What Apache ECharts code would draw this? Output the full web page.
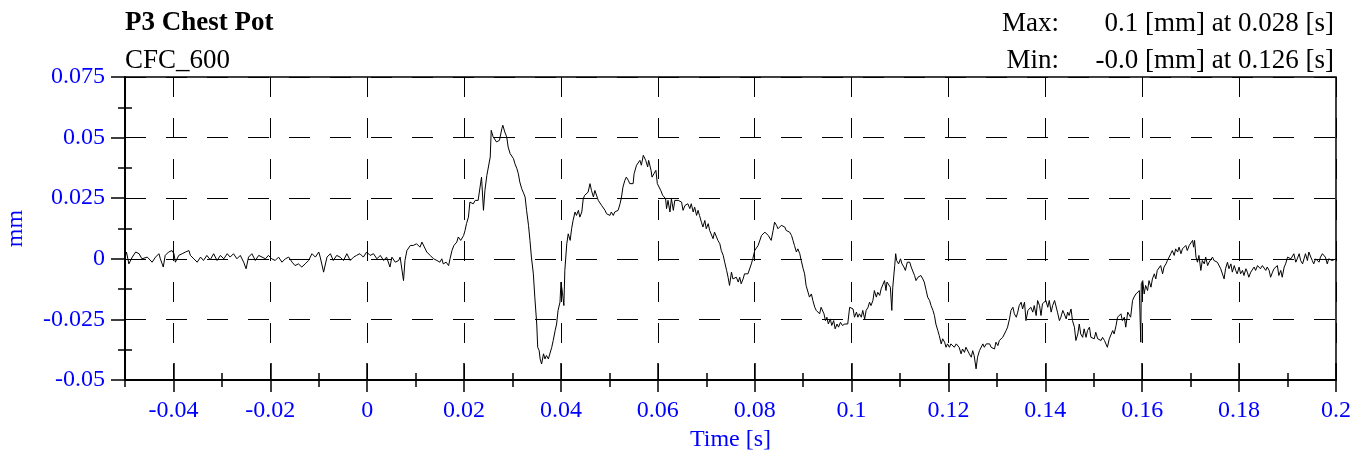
<!DOCTYPE html>
<html>
<head>
<meta charset="utf-8">
<script src="https://cdn.jsdelivr.net/npm/echarts@6.0.0/dist/echarts.min.js"></script>
<style>
  html, body { margin: 0; padding: 0; background: #fff; }
  #chart { width: 1362px; height: 457px; }
</style>
</head>
<body>
<div id="chart"></div>
<script>
// ---- Data ----
const titleText = 'P3 Chest Pot';
const filterText = 'CFC_600';
const maxLabel = 'Max:';
const maxText = '0.1 [mm] at 0.028 [s]';
const minLabel = 'Min:';
const minText = '-0.0 [mm] at 0.126 [s]';
const xName = 'Time [s]';
const yName = 'mm';

const xTickLabels = [-0.04, -0.02, 0, 0.02, 0.04, 0.06, 0.08, 0.1, 0.12, 0.14, 0.16, 0.18, 0.2];
const xMinorTicks = [-0.05, -0.03, -0.01, 0.01, 0.03, 0.05, 0.07, 0.09, 0.11, 0.13, 0.15, 0.17, 0.19];
const yTickLabels = [-0.05, -0.025, 0, 0.025, 0.05, 0.075];
const yMinorTicks = [-0.0375, -0.0125, 0.0125, 0.0375, 0.0625];

const timeS = [
  -0.0500,-0.0497,-0.0492,-0.0485,-0.0478,-0.0471,-0.0465,-0.0454,-0.0444,-0.0437,-0.0430,-0.0427,-0.0421,-0.0417,-0.0410,-0.0403,-0.0399,-0.0396,-0.0389,-0.0382,
  -0.0375,-0.0368,-0.0365,-0.0358,-0.0351,-0.0344,-0.0338,-0.0331,-0.0324,-0.0317,-0.0310,-0.0303,-0.0296,-0.0289,-0.0283,-0.0276,-0.0269,-0.0262,-0.0255,-0.0250,
  -0.0245,-0.0238,-0.0231,-0.0224,-0.0217,-0.0210,-0.0204,-0.0197,-0.0190,-0.0183,-0.0176,-0.0169,-0.0162,-0.0155,-0.0149,-0.0142,-0.0135,-0.0128,-0.0121,-0.0114,
  -0.0107,-0.0100,-0.0097,-0.0090,-0.0083,-0.0076,-0.0070,-0.0063,-0.0056,-0.0049,-0.0042,-0.0035,-0.0028,-0.0022,-0.0015,-0.0008,-0.0001,0.0006,0.0013,0.0020,
  0.0027,0.0034,0.0040,0.0047,0.0051,0.0058,0.0065,0.0068,0.0075,0.0078,0.0082,0.0089,0.0095,0.0102,0.0109,0.0113,0.0117,0.0123,0.0130,0.0137,0.0144,0.0150,
  0.0154,0.0157,0.0163,0.0168,0.0171,0.0175,0.0179,0.0185,0.0188,0.0193,0.0199,0.0202,0.0205,0.0209,0.0212,0.0216,0.0219,0.0223,0.0227,0.0229,
  0.0233,0.0236,0.0240,0.0243,0.0247,0.0250,0.0254,0.0256,0.0260,0.0267,0.0273,0.0278,0.0280,0.0284,0.0288,0.0291,0.0295,0.0298,0.0302,0.0305,
  0.0309,0.0312,0.0315,0.0319,0.0322,0.0326,0.0329,0.0333,0.0336,0.0339,0.0343,0.0346,0.0350,0.0352,0.0355,0.0357,0.0360,0.0364,0.0367,0.0370,
  0.0374,0.0377,0.0381,0.0384,0.0388,0.0391,0.0394,0.0398,0.0400,0.0403,0.0406,0.0408,0.0412,0.0415,0.0419,0.0422,0.0425,
  0.0429,0.0432,0.0436,0.0439,0.0443,0.0446,0.0449,0.0453,0.0456,0.0460,0.0463,0.0467,0.0470,0.0474,0.0477,0.0480,0.0484,0.0487,0.0491,0.0494,
  0.0498,0.0501,0.0504,0.0508,0.0511,0.0515,0.0518,0.0522,0.0525,0.0528,0.0532,0.0535,0.0539,0.0542,0.0546,0.0549,0.0551,0.0556,0.0559,0.0563,
  0.0566,0.0570,0.0572,0.0575,0.0579,0.0581,0.0586,0.0588,0.0592,0.0596,0.0599,0.0603,0.0606,0.0610,0.0613,0.0616,0.0618,0.0621,0.0625,0.0628,
  0.0632,0.0635,0.0638,0.0642,0.0645,0.0649,0.0652,0.0656,0.0659,0.0662,0.0666,0.0669,0.0673,0.0676,0.0680,0.0683,0.0686,0.0690,0.0693,0.0697,
  0.0700,0.0704,0.0707,0.0711,0.0714,0.0717,0.0721,0.0724,0.0728,0.0731,0.0735,0.0738,0.0742,0.0745,0.0748,0.0752,0.0755,0.0759,0.0762,0.0766,
  0.0769,0.0772,0.0776,0.0779,0.0783,0.0786,0.0790,0.0793,0.0796,0.0800,0.0803,0.0807,
  0.0814,0.0817,0.0821,0.0824,0.0828,0.0831,0.0834,0.0838,0.0841,0.0845,0.0848,0.0852,0.0855,0.0858,0.0862,0.0865,0.0869,0.0872,0.0876,0.0879,
  0.0882,0.0886,0.0889,0.0893,0.0896,0.0900,0.0903,0.0906,0.0910,0.0913,0.0917,0.0920,0.0924,0.0927,0.0931,0.0934,0.0937,0.0941,0.0943,0.0946,
  0.0949,0.0952,0.0956,0.0959,0.0963,0.0966,0.0970,0.0973,0.0977,0.0981,0.0986,0.0989,0.0992,0.0996,0.0999,0.1003,0.1006,0.1010,0.1013,0.1016,
  0.1020,0.1023,0.1027,0.1030,0.1034,0.1037,0.1040,0.1044,0.1047,0.1051,0.1054,0.1058,0.1061,0.1064,0.1068,0.1071,0.1073,0.1077,0.1080,0.1083,
  0.1085,0.1089,0.1091,0.1093,0.1097,0.1101,0.1104,0.1108,0.1111,0.1115,0.1120,0.1123,0.1126,0.1130,0.1133,0.1137,0.1140,0.1143,0.1147,0.1150,
  0.1154,0.1157,0.1161,0.1164,0.1168,0.1171,0.1174,0.1178,0.1181,0.1185,0.1188,0.1192,0.1195,0.1198,0.1202,0.1205,0.1209,0.1212,0.1216,0.1219,
  0.1222,0.1226,0.1229,0.1233,0.1236,0.1240,0.1243,0.1247,0.1250,0.1253,0.1257,0.1260,0.1264,0.1267,0.1271,0.1274,0.1278,0.1281,
  0.1285,0.1288,0.1291,0.1295,0.1298,0.1302,0.1305,0.1309,0.1312,0.1315,0.1319,0.1322,0.1326,0.1329,0.1333,0.1336,0.1340,0.1343,0.1346,0.1350,
  0.1353,0.1357,0.1360,0.1364,0.1367,0.1370,0.1374,0.1377,0.1381,0.1384,0.1388,0.1391,0.1394,0.1398,0.1401,0.1405,0.1408,0.1412,0.1415,0.1419,
  0.1422,0.1425,0.1429,0.1432,0.1436,0.1439,0.1443,0.1446,0.1449,0.1453,0.1456,0.1460,0.1463,0.1467,0.1470,0.1473,0.1477,0.1480,0.1484,0.1487,
  0.1491,0.1494,0.1498,0.1501,0.1504,0.1508,0.1511,0.1515,0.1518,0.1522,0.1525,0.1528,0.1532,0.1535,0.1539,0.1542,0.1546,0.1549,0.1552,0.1556,
  0.1559,0.1563,0.1566,0.1570,0.1573,0.1576,0.1580,0.1583,0.1587,0.1590,0.1594,0.1596,0.1597,0.1598,0.1601,0.1604,0.1607,0.1611,0.1614,0.1618,
  0.1621,0.1625,0.1628,0.1631,0.1635,0.1638,0.1642,0.1645,0.1649,0.1652,0.1655,0.1659,0.1662,0.1666,0.1669,0.1673,0.1676,0.1680,0.1683,0.1686,
  0.1690,0.1693,0.1697,0.1700,0.1704,0.1706,0.1708,0.1711,0.1714,0.1717,0.1721,0.1724,0.1728,0.1731,0.1735,0.1738,0.1741,0.1745,0.1748,0.1752,0.1755,
  0.1759,0.1762,0.1766,0.1769,0.1772,0.1776,0.1779,0.1783,0.1786,0.1790,0.1793,0.1796,0.1800,0.1803,0.1807,0.1810,0.1814,0.1817,0.1820,0.1824,
  0.1827,0.1831,0.1834,0.1838,0.1841,0.1844,0.1848,0.1851,0.1855,0.1858,0.1862,0.1865,0.1869,0.1872,0.1875,0.1879,0.1882,0.1886,0.1889,0.1893,
  0.1896,0.1900,0.1903,0.1907,0.1910,0.1913,0.1917,0.1920,0.1924,0.1927,0.1931,0.1934,0.1937,0.1941,0.1944,0.1948,0.1951,0.1954,0.1958,0.1961,
  0.1965,0.1968,0.1972,0.1975,0.1978,0.1982,0.1985,0.1989,0.1992,0.1996,0.2000
];

const valueMm = [
  0.0007,0.0028,-0.0021,0.0007,0.0028,0.0021,0,0.0007,-0.0014,0.0007,0.0021,0,-0.0034,0.0014,0.0028,0.0034,0.0021,-0.0014,0.0014,0.0021,
  0.0028,0.0034,0.0014,0,-0.0014,0.0007,-0.0007,0.0014,-0.0004,0.0021,-0.0007,0.0014,0,0.0021,0.0007,0.0021,0,0.0014,-0.0014,-0.0041,
  0.0007,0.0021,-0.0007,0.0014,0.0007,0,0.0014,0,-0.0007,0.0007,-0.0014,0,0.0007,-0.0014,-0.0028,-0.0021,-0.0034,-0.0021,-0.0007,0.0021,
  0.0007,0.0028,0.0007,-0.0055,0.0007,0.0021,-0.0007,0.0014,0.0007,-0.0007,0.0021,-0.0007,0.0007,0.0014,0.0021,0.0007,0.0028,0.0014,0.0021,0,
  0.0014,-0.0007,0.0007,-0.0034,0.0007,-0.0014,-0.0007,0.0007,-0.0090,-0.0007,0.0034,0.0055,0.0055,0.0062,0.0048,0.0069,0.0076,0.0028,0.0014,0,-0.0007,-0.0014,
  0,-0.0021,-0.0014,-0.0028,0,0.0034,0.0055,0.0069,0.0090,0.0076,0.0096,0.0117,0.0145,0.0172,0.0234,0.0241,0.0227,0.0241,0.0234,0.0241,
  0.0296,0.0337,0.0200,0.0282,0.0344,0.0337,0.0420,0.0530,0.0503,0.0482,0.0489,0.0537,0.0551,0.0523,0.0503,0.0461,0.0434,0.0434,0.0413,0.0392,
  0.0372,0.0351,0.0317,0.0289,0.0275,0.0255,0.0200,0.0138,0.0076,0.0007,-0.0062,-0.0158,-0.0269,-0.0365,-0.0379,-0.0413,-0.0434,-0.0392,-0.0413,-0.0399,
  -0.0413,-0.0406,-0.0365,-0.0337,-0.0296,-0.0269,-0.0213,-0.0179,-0.0096,-0.0138,-0.0193,-0.0048,0.0062,0.0103,0.0076,0.0124,0.0158,
  0.0193,0.0179,0.0200,0.0172,0.0193,0.0248,0.0262,0.0255,0.0275,0.0310,0.0282,0.0255,0.0282,0.0282,0.0241,0.0248,0.0220,0.0227,0.0200,0.0186,
  0.0186,0.0179,0.0193,0.0179,0.0193,0.0186,0.0200,0.0227,0.0255,0.0296,0.0324,0.0337,0.0324,0.0310,0.0317,0.0310,0.0351,0.0386,0.0392,0.0406,
  0.0386,0.0427,0.0434,0.0406,0.0379,0.0406,0.0365,0.0337,0.0351,0.0365,0.0310,0.0310,0.0282,0.0262,0.0269,0.0248,0.0207,0.0241,0.0193,0.0248,
  0.0200,0.0241,0.0248,0.0241,0.0248,0.0234,0.0200,0.0220,0.0213,0.0227,0.0207,0.0227,0.0193,0.0213,0.0179,0.0200,0.0179,0.0151,0.0131,0.0158,
  0.0124,0.0145,0.0117,0.0124,0.0083,0.0110,0.0103,0.0076,0.0062,0.0034,0.0014,-0.0014,-0.0048,-0.0076,-0.0110,-0.0055,-0.0083,-0.0090,-0.0076,-0.0096,
  -0.0076,-0.0103,-0.0083,-0.0062,-0.0055,-0.0062,-0.0055,-0.0021,0,0.0034,0.0034,0.0055,
  0.0096,0.0103,0.0110,0.0117,0.0096,0.0090,0.0076,0.0117,0.0151,0.0138,0.0124,0.0131,0.0138,0.0131,0.0131,0.0117,0.0124,0.0110,0.0096,0.0076,
  0.0055,0.0028,0.0041,0.0021,-0.0007,-0.0041,-0.0062,-0.0110,-0.0117,-0.0158,-0.0145,-0.0172,-0.0200,-0.0213,-0.0213,-0.0227,-0.0200,-0.0193,-0.0227,-0.0255,
  -0.0241,-0.0269,-0.0248,-0.0275,-0.0255,-0.0289,-0.0269,-0.0282,-0.0262,-0.0275,-0.0269,-0.0262,-0.0269,-0.0200,-0.0200,-0.0207,-0.0241,-0.0220,-0.0241,-0.0227,
  -0.0241,-0.0213,-0.0248,-0.0213,-0.0200,-0.0179,-0.0193,-0.0172,-0.0131,-0.0158,-0.0138,-0.0151,-0.0124,-0.0117,-0.0090,-0.0131,-0.0096,-0.0090,-0.0117,-0.0213,
  -0.0117,-0.0028,0.0021,-0.0007,-0.0021,0,-0.0021,-0.0034,-0.0048,-0.0014,-0.0014,-0.0034,-0.0028,-0.0069,-0.0090,-0.0076,-0.0076,-0.0069,-0.0083,-0.0096,
  -0.0131,-0.0158,-0.0172,-0.0193,-0.0213,-0.0234,-0.0269,-0.0296,-0.0317,-0.0351,-0.0330,-0.0344,-0.0365,-0.0351,-0.0365,-0.0351,-0.0344,-0.0365,-0.0351,-0.0344,
  -0.0365,-0.0392,-0.0372,-0.0386,-0.0365,-0.0365,-0.0392,-0.0406,-0.0379,-0.0399,-0.0454,-0.0406,-0.0379,-0.0372,-0.0351,-0.0365,-0.0351,-0.0358,
  -0.0351,-0.0365,-0.0358,-0.0372,-0.0344,-0.0358,-0.0337,-0.0344,-0.0324,-0.0330,-0.0296,-0.0282,-0.0248,-0.0213,-0.0200,-0.0227,-0.0241,-0.0220,-0.0193,-0.0179,
  -0.0207,-0.0179,-0.0255,-0.0213,-0.0207,-0.0200,-0.0220,-0.0193,-0.0234,-0.0172,-0.0193,-0.0234,-0.0186,-0.0179,-0.0172,-0.0200,-0.0172,-0.0220,-0.0193,-0.0172,
  -0.0179,-0.0220,-0.0255,-0.0241,-0.0213,-0.0227,-0.0248,-0.0220,-0.0234,-0.0207,-0.0255,-0.0282,-0.0337,-0.0310,-0.0269,-0.0310,-0.0324,-0.0289,-0.0324,-0.0296,
  -0.0282,-0.0324,-0.0317,-0.0330,-0.0303,-0.0330,-0.0324,-0.0337,-0.0324,-0.0337,-0.0344,-0.0365,-0.0330,-0.0324,-0.0296,-0.0310,-0.0275,-0.0241,-0.0248,-0.0227,
  -0.0255,-0.0241,-0.0282,-0.0220,-0.0213,-0.0241,-0.0172,-0.0158,-0.0145,-0.0151,-0.0131,-0.0124,-0.0344,-0.0103,-0.0090,-0.0145,-0.0110,-0.0131,-0.0090,-0.0117,
  -0.0083,-0.0062,-0.0083,-0.0048,-0.0041,-0.0028,-0.0062,-0.0034,-0.0021,-0.0007,0,0.0021,0.0034,0.0014,0.0041,0.0028,0.0048,0.0021,0.0041,0.0041,
  0.0055,0.0034,0.0055,0.0062,0.0076,0.0048,0.0076,0.0007,-0.0014,0.0014,-0.0048,-0.0007,-0.0021,0.0007,-0.0028,-0.0014,-0.0021,0.0007,-0.0007,0,-0.0014,
  -0.0021,-0.0041,-0.0048,-0.0083,-0.0041,-0.0014,-0.0041,-0.0021,-0.0055,-0.0028,-0.0048,-0.0062,-0.0034,-0.0062,-0.0048,-0.0069,-0.0041,-0.0055,-0.0076,-0.0055,
  -0.0048,-0.0034,-0.0048,-0.0028,-0.0021,-0.0041,-0.0028,-0.0034,-0.0048,-0.0034,-0.0048,-0.0076,-0.0055,-0.0041,-0.0048,-0.0028,-0.0069,-0.0048,-0.0076,-0.0034,
  -0.0021,0.0007,0.0014,0,-0.0007,0.0021,-0.0014,0,0.0021,-0.0007,-0.0021,0,0.0021,-0.0007,0.0028,0.0007,-0.0007,-0.0021,0,-0.0007,
  -0.0014,0.0007,0.0021,0.0028,0.0007,-0.0021,0,-0.0007,-0.0007,0,0
];

// ---- Chart ----
const serif = "'Liberation Serif', 'Times New Roman', serif";
const blue = '#0000ff';
const black = '#000000';
const seriesData = timeS.map((t, i) => [t, valueMm[i]]);

const baseX = {
  type: 'value', min: -0.05, max: 0.2, gridIndex: 0, position: 'bottom',
  axisLine: { show: false, onZero: false },
  axisLabel: { show: false },
  splitLine: { show: false },
  axisTick: { show: false }
};
const baseY = {
  type: 'value', min: -0.05, max: 0.075, interval: 0.025, gridIndex: 0, position: 'left',
  axisLine: { show: false, onZero: false },
  axisLabel: { show: false },
  splitLine: { show: false },
  axisTick: { show: false }
};
const tickStyle = { color: black, width: 1.5 };

const option = {
  animation: false,
  backgroundColor: '#ffffff',
  title: [
    { text: titleText, left: 125, top: 10, padding: 0, textStyle: { fontFamily: serif, fontSize: 27, fontWeight: 'bold', color: black } },
    { text: filterText, left: 125, top: 47, padding: 0, textStyle: { fontFamily: serif, fontSize: 27, fontWeight: 'normal', color: black } },
    { text: maxLabel, right: 303, top: 10, padding: 0, textStyle: { fontFamily: serif, fontSize: 27, fontWeight: 'normal', color: black } },
    { text: maxText, right: 28, top: 10, padding: 0, textStyle: { fontFamily: serif, fontSize: 27, fontWeight: 'normal', color: black } },
    { text: minLabel, right: 303, top: 47, padding: 0, textStyle: { fontFamily: serif, fontSize: 27, fontWeight: 'normal', color: black } },
    { text: minText, right: 28, top: 47, padding: 0, textStyle: { fontFamily: serif, fontSize: 27, fontWeight: 'normal', color: black } }
  ],
  grid: {
    left: 125, right: 26, top: 77, bottom: 77,
    containLabel: false, outerBoundsMode: 'none',
    show: true, borderColor: black, borderWidth: 1.5, backgroundColor: 'transparent'
  },
  xAxis: [
    Object.assign({}, baseX, {
      axisLine: { show: true, onZero: false, lineStyle: { color: black, width: 2 } },
      axisTick: { show: true, customValues: xMinorTicks, length: 7, lineStyle: tickStyle },
      axisLabel: { show: true, customValues: xTickLabels, color: blue, fontFamily: serif, fontSize: 24, margin: 19 },
      name: xName, nameLocation: 'middle', nameGap: 47,
      nameTextStyle: { color: blue, fontFamily: serif, fontSize: 24 }
    }),
    Object.assign({}, baseX, {
      axisTick: { show: true, inside: true, customValues: xMinorTicks, length: 7, lineStyle: tickStyle }
    }),
    Object.assign({}, baseX, {
      axisTick: { show: true, customValues: xTickLabels, length: 12, lineStyle: tickStyle },
      splitLine: { show: true, lineStyle: { color: black, width: 1, type: [20, 21] } }
    }),
    Object.assign({}, baseX, {
      axisTick: { show: true, inside: true, customValues: xTickLabels, length: 17, lineStyle: tickStyle }
    })
  ],
  yAxis: [
    Object.assign({}, baseY, {
      axisLine: { show: true, onZero: false, lineStyle: { color: black, width: 2 } },
      axisTick: { show: true, customValues: yTickLabels, length: 14, lineStyle: tickStyle },
      axisLabel: { show: true, customValues: yTickLabels, color: blue, fontFamily: serif, fontSize: 24, margin: 20 },
      splitLine: { show: true, lineStyle: { color: black, width: 1, type: [21, 20] } },
      name: yName, nameLocation: 'middle', nameRotate: 90, nameGap: 97,
      nameTextStyle: { color: blue, fontFamily: serif, fontSize: 24 }
    }),
    Object.assign({}, baseY, {
      axisTick: { show: true, customValues: yMinorTicks, length: 7, lineStyle: tickStyle }
    }),
    Object.assign({}, baseY, {
      axisTick: { show: true, inside: true, customValues: yMinorTicks, length: 7, lineStyle: tickStyle }
    })
  ],
  series: [{
    type: 'line',
    xAxisIndex: 0,
    yAxisIndex: 0,
    data: seriesData,
    showSymbol: false,
    symbol: 'none',
    smooth: false,
    lineStyle: { color: black, width: 1 },
    silent: true
  }]
};

const chart = echarts.init(document.getElementById('chart'), null, { renderer: 'canvas' });
chart.setOption(option);
</script>
</body>
</html>
